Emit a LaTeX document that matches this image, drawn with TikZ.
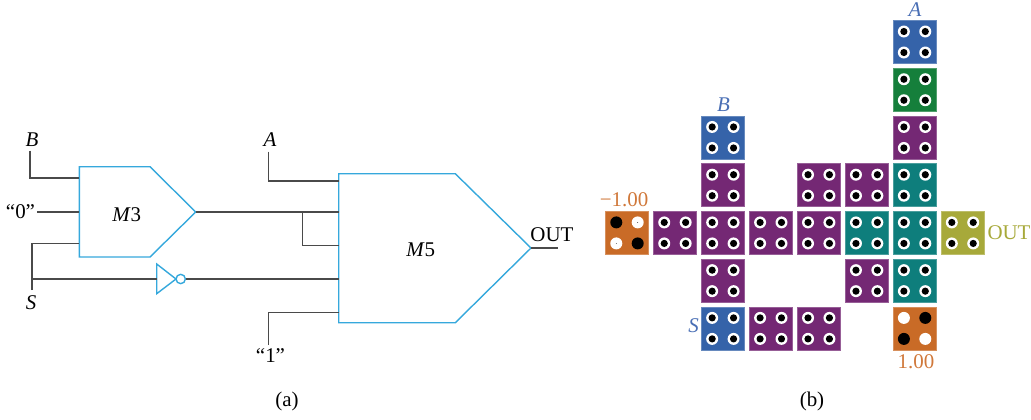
\documentclass[tikz,border=0pt]{standalone}
\usepackage{fontspec}
\setmainfont{Liberation Serif}
\usepackage{xcolor}
\usetikzlibrary{calc}
\definecolor{tileblue}{HTML}{3563A9}
\definecolor{tilegreen}{HTML}{157F3B}
\definecolor{tilepurple}{HTML}{742874}
\definecolor{tileteal}{HTML}{0E7E7C}
\definecolor{tileolive}{HTML}{A7A93A}
\definecolor{tileorange}{HTML}{C96B27}
\definecolor{gateblue}{HTML}{35A8DC}
\definecolor{wiregray}{HTML}{4A4A4A}
\definecolor{textblue}{HTML}{4A6FB5}
\definecolor{textorange}{HTML}{D0783A}
\tikzstyle{tile} = [rectangle, minimum size=32.2pt, inner sep=0pt, outer sep=0pt, line width=0.4pt]
\tikzstyle{gate} = [draw=gateblue, line width=1.05pt, line join=miter]
\tikzstyle{wire} = [draw=wiregray, line width=0.85pt]
\tikzstyle{lbl} = [inner sep=0pt, font=\fontsize{15.7}{17}\selectfont]

\begin{document}
\begin{tikzpicture}[x=0.75pt,y=-0.75pt]
\useasboundingbox (0,0) rectangle (1031,419);
% circuit
\draw[gate] (79.3,166.7) -- (150,166.7) -- (195.7,212) -- (150,257) -- (79.3,257) -- cycle;
\draw[gate] (338.7,173.7) -- (455.3,173.7) -- (531,248) -- (455.3,322.7) -- (338.7,322.7) -- cycle;
\node[lbl] (m3) at (126.7,215) {\textit{M}3};
\node[lbl] (m5) at (420.7,250) {\textit{M}5};
\node[lbl] (inB) at (32,140) {\textit{B}};
\node[lbl] (in0) at (20.5,212) {“0”};
\node[lbl] (inS) at (31,303) {\textit{S}};
\node[lbl] (inA) at (270,140) {\textit{A}};
\node[lbl] (in1) at (270.5,356) {“1”};
\node[lbl] (out) at (552,235) {OUT};
\coordinate (m3a) at (79.3,178);
\coordinate (m3b) at (79.3,212);
\coordinate (m3c) at (79.3,243.7);
\coordinate (m3o) at (195.7,212);
\coordinate (m5a) at (338.7,181);
\coordinate (m5b) at (338.7,212);
\coordinate (m5c) at (338.7,245.7);
\coordinate (m5d) at (338.7,279);
\coordinate (m5e) at (338.7,312.7);
\coordinate (m5o) at (531,248);
\coordinate (endB) at (30,150.5);
\coordinate (end0) at (37,212);
\coordinate (endS) at (32,290);
\coordinate (endA) at (268.5,151.5);
\coordinate (end1) at (268.5,345);
\coordinate (endO) at (558,248);
\coordinate (tapS) at (32,279);
\coordinate (tapM) at (302.7,212);
\coordinate (invin) at (156.7,279);
\node[circle, draw=gateblue, line width=1.05pt, minimum size=7pt, inner sep=0pt] (bubble) at (180.7,279) {};
\draw[gate] (156.7,264) -- (176,279) -- (156.7,293.7) -- cycle;
\draw[wire] (endB) |- (m3a);
\draw[wire] (end0) -- (m3b);
\draw[wire] (endS) |- (m3c);
\draw[wire] (tapS) -- (invin);
\draw[wire] (bubble.east) -- (m5d);
\draw[wire] (m3o) -- (m5b);
\draw[wire] (tapM) |- (m5c);
\draw[wire] (endA) |- (m5a);
\draw[wire] (end1) |- (m5e);
\draw[wire] (m5o) -- (endO);
% tiles
\foreach \col/\row/\tcol in {6/0/tileblue, 6/1/tilegreen, 2/2/tileblue, 6/2/tilepurple,
    2/3/tilepurple, 4/3/tilepurple, 5/3/tilepurple, 6/3/tileteal,
    1/4/tilepurple, 2/4/tilepurple, 3/4/tilepurple, 4/4/tilepurple, 5/4/tileteal, 6/4/tileteal, 7/4/tileolive,
    2/5/tilepurple, 5/5/tilepurple, 6/5/tileteal,
    2/6/tileblue, 3/6/tilepurple, 4/6/tilepurple} {
  \node[tile, fill=\tcol, draw=\tcol!75!white] (t\col\row) at ({627+47.93*\col},{42+47.73*\row}) {};
  \foreach \dx in {-10.7,10.7} \foreach \dy in {-10.5,10.5} {
    \fill[white] ($(t\col\row)+(\dx,\dy)$) circle (4.5pt);
    \fill[black] ($(t\col\row)+(\dx,\dy)$) circle (2.7pt);
  }
}
% input tiles
\node[tile, fill=tileorange, draw=tileorange!75!white] (t04) at (627,232.9) {};
\node[tile, fill=tileorange, draw=tileorange!75!white] (t66) at (914.6,328.4) {};
\foreach \dx/\dy in {-10.7/-10.5, 10.7/10.5} {
  \fill[black] ($(t04)+(\dx,\dy)$) circle (4.5pt);
  \fill[white] ($(t66)+(\dx,\dy)$) circle (4.5pt);
}
\foreach \dx/\dy in {10.7/-10.5, -10.7/10.5} {
  \fill[white] ($(t04)+(\dx,\dy)$) circle (4.5pt);
  \fill[black] ($(t04)+(\dx,\dy)$) circle (0.3pt);
  \fill[black] ($(t66)+(\dx,\dy)$) circle (4.5pt);
}
\node[lbl, text=textblue] (lA) at (915,10) {\textit{A}};
\node[lbl, text=textblue] (lB) at (723.5,105) {\textit{B}};
\node[lbl, text=textblue] (lS) at (693.5,326) {\textit{S}};
\node[lbl, text=textorange] (lm) at (624,200) {−1.00};
\node[lbl, text=textorange] (lp) at (916,362) {1.00};
\node[lbl, text=tileolive] (lo) at (1009,233) {OUT};
\node[lbl] (capa) at (287,401) {(a)};
\node[lbl] (capb) at (812,401) {(b)};
\end{tikzpicture}
\end{document}
